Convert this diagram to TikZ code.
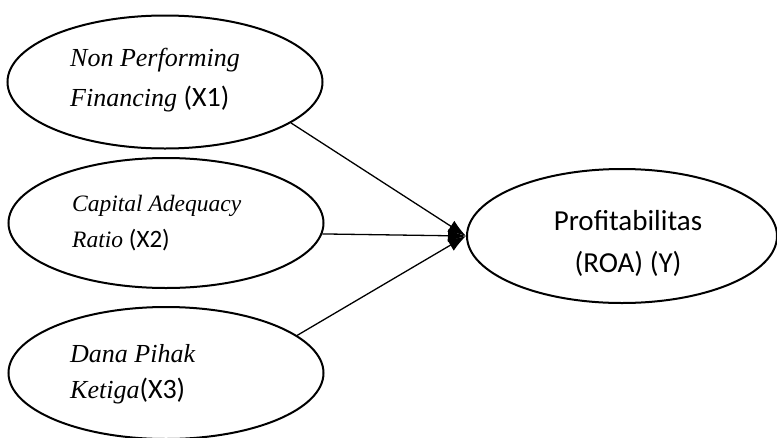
\documentclass[tikz,border=0pt]{standalone}
\usepackage{fontspec}
\setmainfont{Liberation Serif}
\newfontfamily\calibri{Carlito}
\usetikzlibrary{shapes,arrows.meta}
\tikzstyle{var} = [ellipse, draw=black, line width=2pt, minimum width=315pt, minimum height=133pt, inner sep=0pt]
\tikzstyle{lbl} = [anchor=base west, align=left, inner sep=0pt]
\tikzstyle{arrow} = [line width=1.3pt, -{Latex[length=18pt,width=13pt]}]
\newcommand{\kode}[2]{{\calibri\fontsize{#1}{#1}\selectfont #2}}

\begin{document}
\begin{tikzpicture}[x=1pt,y=-1pt]
                    \useasboundingbox (0,0) rectangle (777,437);
                    \clip (0,0) rectangle (777,437);
                    % independent variables
                    \node[var] (x1) at (165,82) {};
                    \node[var, minimum height=130pt] (x2) at (166,223) {};
                    \node[var, minimum height=132pt] (x3) at (166,373) {};
                    % dependent variable
                    \node[var, minimum width=310pt, minimum height=134pt] (y) at (622,236) {};
                    \node[lbl, font=\fontsize{26}{40}\selectfont] (x1txt) at (70,106) {\textit{Non Performing}\\\textit{Financing} \kode{28}{(X1)}};
                    \node[lbl, font=\fontsize{23.5}{36}\selectfont] (x2txt) at (72,247) {\textit{Capital Adequacy}\\\textit{Ratio} \kode{25}{(X2)}};
                    \node[lbl, font=\fontsize{26}{36}\selectfont] (x3txt) at (70,398) {\textit{Dana Pihak}\\\textit{Ketiga}\kode{28}{(X3)}};
                    \node[anchor=base, align=center, inner sep=0pt, font=\calibri\fontsize{29}{42}\selectfont] (ytxt) at (628,272) {Profitabilitas\\(ROA) (Y)};
                    % arrows
                    \draw[arrow] (x1.-18) -- (y.west);
                    \draw[arrow] (x2.-4) -- (y.west);
                    \draw[arrow] (x3.16) -- (y.west);
                \end{tikzpicture}
\end{document}
